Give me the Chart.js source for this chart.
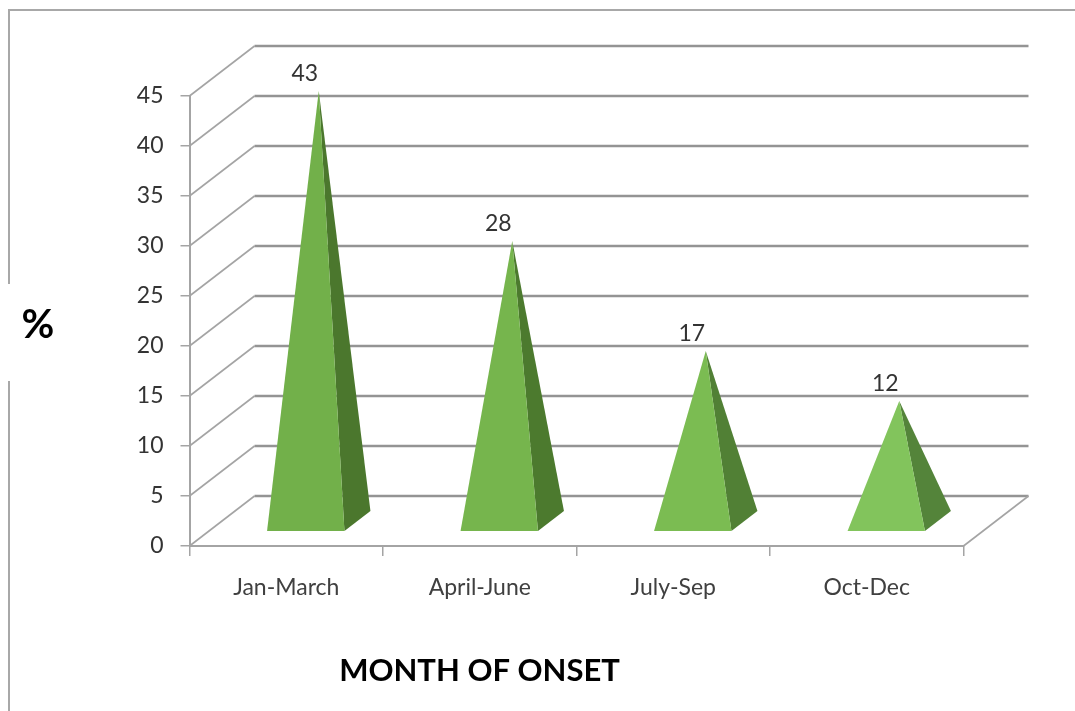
<!DOCTYPE html>
<html>
<head>
<meta charset="utf-8">
<style>
html,body{margin:0;padding:0;background:#fff;overflow:hidden}
#wrap{width:1075px;height:711px;position:relative}
canvas{display:block;filter:blur(0.45px)}
</style>
<script src="https://cdn.jsdelivr.net/npm/chart.js@4/dist/chart.umd.min.js"></script>
</head>
<body>
<div id="wrap"><canvas id="c" width="1075" height="711"></canvas></div>
<script>
const categories = ["Jan-March", "April-June", "July-Sep", "Oct-Dec"];
const values = [43, 28, 17, 12];
const frontColors = ["#72B04A", "#76B54D", "#7BBC52", "#82C45C"];
const sideColors = ["#4B772D", "#4C7A2E", "#518035", "#54843A"];
const xAxisTitle = "MONTH OF ONSET";
const yAxisTitle = "%";

const DEPTH_X = 65, DEPTH_Y = 50;
const FONT = "Lato, Carlito, 'Open Sans', sans-serif";

const wallAndFloor = {
  id: "wallAndFloor",
  beforeDatasetsDraw(chart) {
    const { ctx, scales: { x, y } } = chart;
    ctx.save();
    // page frame
    ctx.strokeStyle = "#a8a8a8";
    ctx.lineWidth = 2;
    ctx.beginPath();
    ctx.moveTo(9, 284); ctx.lineTo(9, 10); ctx.lineTo(1075, 10);
    ctx.moveTo(9, 381); ctx.lineTo(9, 711);
    ctx.stroke();
    // slanted side wall lines and back wall lines
    y.ticks.forEach(t => {
      const py = y.getPixelForValue(t.value);
      ctx.strokeStyle = "#a4a4a4";
      ctx.lineWidth = 1.6;
      ctx.beginPath();
      ctx.moveTo(x.left, py);
      ctx.lineTo(x.left + DEPTH_X, py - DEPTH_Y);
      ctx.stroke();
      ctx.strokeStyle = "#949494";
      ctx.lineWidth = 2.4;
      ctx.beginPath();
      ctx.moveTo(x.left + DEPTH_X, py - DEPTH_Y);
      ctx.lineTo(x.right + DEPTH_X, py - DEPTH_Y);
      ctx.stroke();
    });
    // floor right edge
    const y0 = y.getPixelForValue(0);
    ctx.strokeStyle = "#a4a4a4";
    ctx.lineWidth = 1.6;
    ctx.beginPath();
    ctx.moveTo(x.right, y0);
    ctx.lineTo(x.right + DEPTH_X, y0 - DEPTH_Y);
    ctx.stroke();
    ctx.restore();
  },
  afterDraw(chart) {
    const { ctx } = chart;
    ctx.save();
    ctx.fillStyle = "#000";
    ctx.textAlign = "center";
    ctx.textBaseline = "middle";
    ctx.font = "bold 31px " + FONT;
    ctx.fillText(xAxisTitle, 479.5, 671);
    ctx.font = "bold 40px " + FONT;
    ctx.fillText(yAxisTitle, 38, 325);
    ctx.restore();
  }
};

const pyramids = {
  id: "pyramids",
  beforeDatasetDraw(chart, args) {
    const { ctx, scales: { y } } = chart;
    const y0 = y.getPixelForValue(0);
    const ds = chart.data.datasets[args.index];
    args.meta.data.forEach((el, i) => {
      const w = el.width;
      const fl = el.x - w / 2 + DEPTH_X * 0.3, fr = el.x + w / 2 + DEPTH_X * 0.3;
      const fy = y0 - DEPTH_Y * 0.3;
      const bx = el.x + w / 2 + DEPTH_X * 0.7, by = y0 - DEPTH_Y * 0.7;
      const ax = el.x + DEPTH_X * 0.5, ay = el.y - DEPTH_Y * 0.5;
      ctx.fillStyle = ds.sideColor[i];
      ctx.beginPath();
      ctx.moveTo(fr, fy); ctx.lineTo(bx, by); ctx.lineTo(ax, ay); ctx.closePath();
      ctx.fill();
      ctx.fillStyle = ds.backgroundColor[i];
      ctx.beginPath();
      ctx.moveTo(fl, fy); ctx.lineTo(fr, fy); ctx.lineTo(ax, ay); ctx.closePath();
      ctx.fill();
      ctx.fillStyle = "#333";
      ctx.font = "23px " + FONT;
      ctx.textAlign = "center";
      ctx.textBaseline = "middle";
      ctx.fillText(String(ds.data[i]), ax - 14, ay - 17);
    });
    return false;
  }
};

new Chart(document.getElementById("c"), {
  type: "bar",
  data: {
    labels: categories,
    datasets: [{
      data: values,
      backgroundColor: frontColors,
      sideColor: sideColors,
      categoryPercentage: 1,
      barPercentage: 0.4
    }]
  },
  options: {
    responsive: false,
    animation: false,
    devicePixelRatio: 1,
    layout: { padding: { top: 96, right: 111.5, left: 0, bottom: 0 } },
    plugins: { legend: { display: false }, tooltip: { enabled: false } },
    scales: {
      x: {
        afterFit(s) { s.height = 165; },
        border: { color: "#a4a4a4", width: 2 },
        grid: { display: true, drawOnChartArea: false, drawTicks: true, tickLength: 10, color: "#a4a4a4", lineWidth: 1.5, offset: true },
        ticks: { color: "#404040", font: { family: FONT, size: 23 }, padding: 18, maxRotation: 0 }
      },
      y: {
        min: 0, max: 45,
        afterFit(s) { s.width = 189.5; },
        border: { color: "#a4a4a4", width: 2 },
        grid: { display: true, drawOnChartArea: false, drawTicks: true, tickLength: 9, color: "#a4a4a4", lineWidth: 1.5 },
        ticks: { stepSize: 5, color: "#333", font: { family: FONT, size: 23 }, padding: 17 }
      }
    }
  },
  plugins: [wallAndFloor, pyramids]
});
</script>
</body>
</html>
